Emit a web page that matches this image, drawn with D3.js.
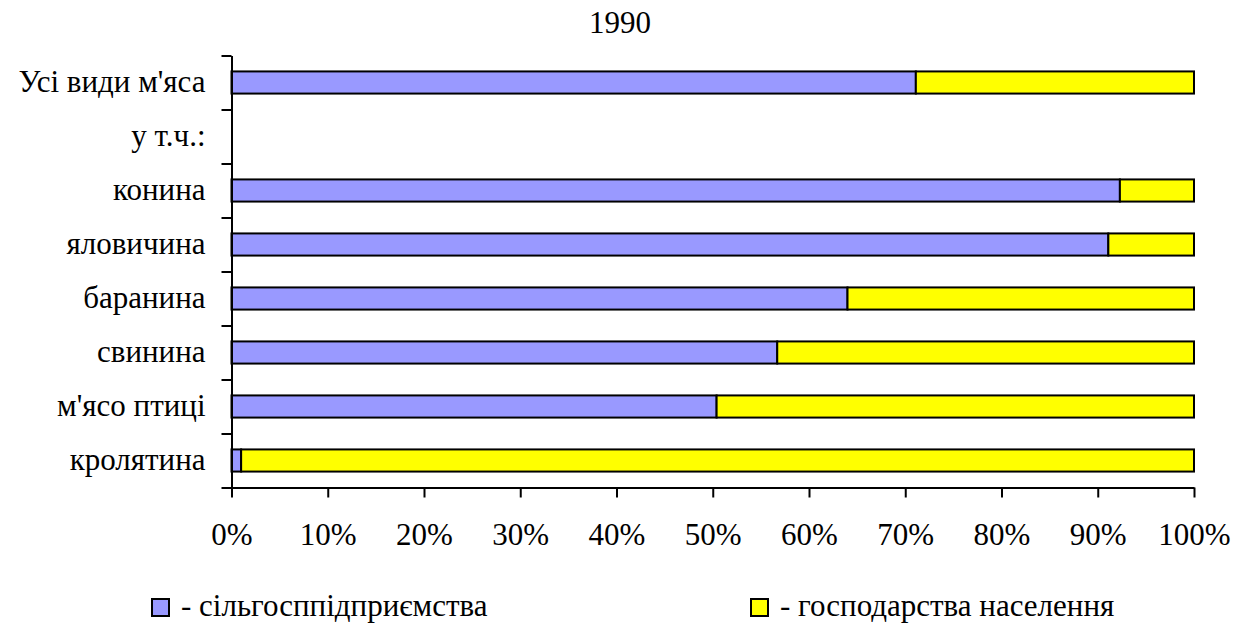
<!DOCTYPE html>
<html>
<head>
<meta charset="utf-8">
<script src="https://cdn.jsdelivr.net/npm/d3@7"></script>
<style>
  body { margin: 0; background: #fff; }
  svg text { font-family: 'Liberation Serif', 'Times New Roman', serif !important; fill: #000; }
</style>
</head>
<body>
<div id="chart"></div>
<script>
// Chart data
var title = "1990";
var categories = ["Усі види м'яса", "у т.ч.:", "конина", "яловичина", "баранина", "свинина", "м'ясо птиці", "кролятина"];
var enterprises = [71.1, null, 92.3, 91.1, 64.0, 56.7, 50.4, 1.0];
var households = [28.9, null, 7.7, 8.9, 36.0, 43.3, 49.6, 99.0];
var seriesNames = ["- сільгосппідприємства", "- господарства населення"];
var seriesColors = ["#9999ff", "#ffff00"];
var xTicks = [0, 10, 20, 30, 40, 50, 60, 70, 80, 90, 100];

var fontSize = "31px";

// SVG window
var svgWidth = 1241;
var svgHeight = 628;

var margin = { top: 55.5, right: 47, bottom: 140.5, left: 231.5 };
var width = svgWidth - margin.left - margin.right;
var height = svgHeight - margin.top - margin.bottom;

var svg = d3.select("#chart")
  .append("svg")
  .attr("width", svgWidth)
  .attr("height", svgHeight);

var chartGroup = svg.append("g")
  .attr("transform", `translate(${margin.left}, ${margin.top})`);

// Scales
var xScale = d3.scaleLinear().domain([0, 100]).range([0, width]);
var yScale = d3.scaleBand().domain(categories).range([0, height]).paddingInner(0.59).paddingOuter(0.295);
var yTickScale = d3.scaleLinear().domain([0, categories.length]).range([0, height]);

// Title
svg.append("text")
  .attr("x", 620)
  .attr("y", 33)
  .attr("text-anchor", "middle")
  .style("font-size", fontSize)
  .text(title);

// Bars
var rows = categories.map((c, i) => ({ cat: c, a: enterprises[i], b: households[i] }))
  .filter(d => d.a !== null);

var rowGroup = chartGroup.selectAll(".row")
  .data(rows)
  .enter()
  .append("g");

rowGroup.append("rect")
  .attr("x", xScale(0))
  .attr("y", d => yScale(d.cat))
  .attr("width", d => xScale(d.a) - xScale(0))
  .attr("height", yScale.bandwidth())
  .attr("fill", seriesColors[0])
  .attr("stroke", "#000")
  .attr("stroke-width", 2);

rowGroup.append("rect")
  .attr("x", d => xScale(d.a))
  .attr("y", d => yScale(d.cat))
  .attr("width", d => xScale(d.a + d.b) - xScale(d.a))
  .attr("height", yScale.bandwidth())
  .attr("fill", seriesColors[1])
  .attr("stroke", "#000")
  .attr("stroke-width", 2);

// Y axis: tick marks between categories
var yAxis = chartGroup.append("g")
  .call(d3.axisLeft(yTickScale).ticks(categories.length).tickSize(10).tickSizeOuter(0).tickFormat(""));

// Y axis labels
var yLabels = chartGroup.append("g")
  .call(d3.axisLeft(yScale).tickSize(0).tickPadding(26));
yLabels.select(".domain").remove();

// X axis
var xAxis = chartGroup.append("g")
  .attr("transform", `translate(0, ${height})`)
  .call(d3.axisBottom(xScale).tickValues(xTicks).tickSize(10).tickSizeOuter(0).tickPadding(25).tickFormat(d => d + "%"));

svg.selectAll(".tick text")
  .style("font-size", fontSize);
svg.selectAll(".domain, .tick line").attr("stroke", "#000").attr("stroke-width", 2);

// Legend
var legendX = [152, 751];
var legend = svg.selectAll(".legend")
  .data(seriesNames)
  .enter()
  .append("g")
  .attr("transform", (d, i) => `translate(${legendX[i]}, 599)`);

legend.append("rect")
  .attr("width", 17)
  .attr("height", 17)
  .attr("fill", (d, i) => seriesColors[i])
  .attr("stroke", "#000")
  .attr("stroke-width", 2);

legend.append("text")
  .attr("x", 29)
  .attr("y", 17)
  .style("font-size", fontSize)
  .text(d => d);
</script>
</body>
</html>
